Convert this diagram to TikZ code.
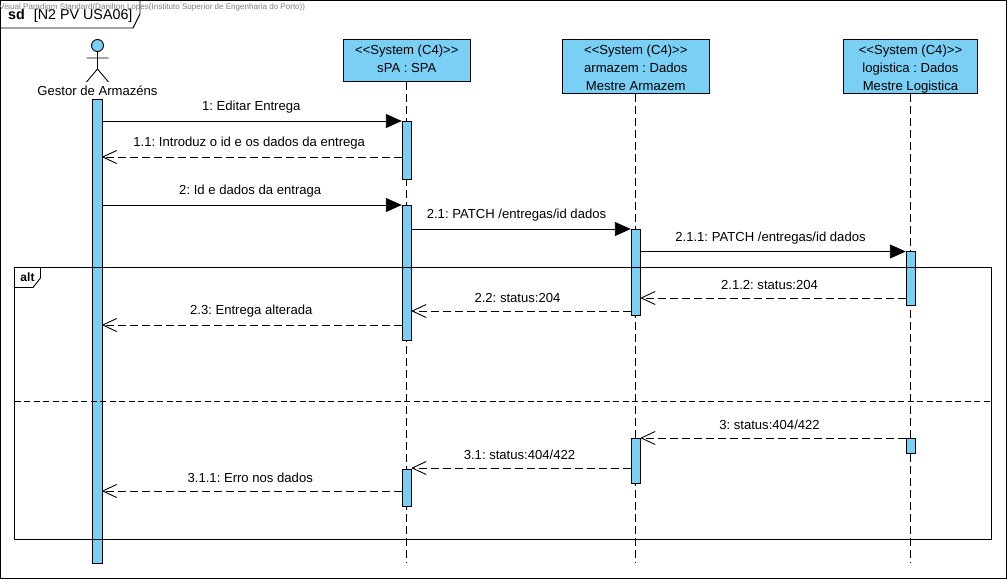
\documentclass[tikz,border=0pt]{standalone}
\usepackage{fontspec}
\setmainfont{Liberation Sans}
\usetikzlibrary{arrows.meta,calc}
\definecolor{lifeblue}{HTML}{7ACFF5}
\frenchspacing
\pgfdeclarearrow{
    name = Open Vee,
    setup code = {\pgfarrowssettipend{0pt}\pgfarrowssetlineend{-.4pt}\pgfarrowssetvisualbackend{-14pt}\pgfarrowssetbackend{-14pt}},
    drawing code = {\pgfsetdash{}{+0pt}\pgfsetroundjoin
        \pgfpathmoveto{\pgfqpoint{-14pt}{6.5pt}}\pgfpathlineto{\pgfpointorigin}\pgfpathlineto{\pgfqpoint{-14pt}{-6.5pt}}\pgfusepathqstroke}
}
\tikzset{
    actbar/.style = {draw, rectangle, fill=lifeblue, line width=.9pt, inner sep=0pt, minimum width=9.5pt},
    sysbox/.style = {draw, rectangle, fill=lifeblue, line width=.9pt, inner sep=0pt, align=center, font=\fontsize{13.1}{18}\selectfont, anchor=north},
    lifeline/.style = {draw, line width=.9pt, dash pattern=on 8pt off 4pt},
    syncmsg/.style = {draw, line width=.9pt, -{Triangle[length=16pt,width=14pt]}},
    replymsg/.style = {draw, line width=.9pt, dash pattern=on 8pt off 4pt, -{Open Vee}},
    msglabel/.style = {font=\fontsize{13.1}{15}\selectfont, inner sep=0pt},
    frameline/.style = {draw, line width=.9pt}
}
\begin{document}
\begin{tikzpicture}[x=1pt,y=-1pt]
    \useasboundingbox (0,0) rectangle (1008,580);
    \fill[white] (0,0) rectangle (1008,580);
    % outer frame
    \draw[frameline] (.5,.5) rectangle (1006.5,578.5);
    \draw[frameline,fill=white] (.5,.5) -- (140,.5) -- (140,14) -- (133,28) -- (.5,28) -- cycle;
    \node[font=\fontsize{14.3}{16}\selectfont, inner sep=0pt, anchor=west] (sdtitle) at (8,16) {\textbf{sd}\hspace{9pt}[N2 PV USA06]};
    \node[font=\fontsize{8.05}{10}\selectfont, text=black!50, inner sep=0pt, anchor=west] (mark) at (-1,7) {Visual Paradigm Standard(Danilton Lopes(Instituto Superior de Engenharia do Porto))};
    % actor
    \node[draw, circle, fill=lifeblue, line width=.9pt, minimum size=12pt, inner sep=0pt] (head) at (97.5,45.5) {};
    \coordinate (hip) at (97.5,69);
    \coordinate (armL) at (86.5,58);
    \coordinate (armR) at (108.5,58);
    \coordinate (legL) at (86.5,82);
    \coordinate (legR) at (108.5,82);
    \draw[frameline] (head) -- (hip) (armL) -- (armR) (legL) -- (hip) -- (legR);
    \node[msglabel] (gestor) at (97.5,91) {Gestor de Armazéns};
    % systems
    \node[sysbox, minimum width=127pt, minimum height=42pt] (spa) at (406.8,39.3) {};
    \node[sysbox, minimum width=147pt, minimum height=54pt] (arm) at (635.8,39.3) {};
    \node[sysbox, minimum width=134pt, minimum height=54pt] (log) at (910.5,39.3) {};
    \foreach \sys/\txt in {spa/{sPA : SPA},arm/{armazem : Dados\\Mestre Armazem},log/{logistica : Dados\\Mestre Logistica}} {
        \node[sysbox, draw=none, fill=none, anchor=north, yshift=-5pt] (\sys text) at (\sys.north) {<{}<System (C4)>{}>\\\txt};
        \coordinate (\sys end) at (\sys.south |- 0,563);
        \draw[lifeline] (\sys.south) -- (\sys end);
    }
    % activation bars
    \foreach \name/\xc/\top/\bot in {main/97.5/99/563,
                                     s1/407/121/179, s2/407/205/340, s3/407/469/506,
                                     a1/636/229/315, a2/636/438/483,
                                     l1/911/251/305, l2/911/438/453} {
        \node[actbar, minimum height={(\bot-\top)*1pt}] (\name) at (\xc,{(\top+\bot)/2}) {};
    }
    % messages
    \foreach \style/\from/\fa/\to/\ta/\yy/\dx/\txt in {
        syncmsg/main/east/s1/west/121/-1/{1: Editar Entrega},
        replymsg/s1/west/main/east/157/-3/{1.1: Introduz o id e os dados da entrega},
        syncmsg/main/east/s2/west/205/-2/{2: Id e dados da entraga},
        syncmsg/s2/east/a1/west/229/-5/{2.1: PATCH /entregas/id dados},
        syncmsg/a1/east/l1/west/251.5/-3/{2.1.1: PATCH /entregas/id dados},
        replymsg/l1/west/a1/east/298/-4/{2.1.2: status:204},
        replymsg/a1/west/s2/east/311/-4/{2.2: status:204},
        replymsg/s2/west/main/east/325/-1/{2.3: Entrega alterada},
        replymsg/l2/west/a2/east/438/-4/{3: status:404/422},
        replymsg/a2/west/s3/east/468/-2/{3.1: status:404/422},
        replymsg/s3/west/main/east/491/-2/{3.1.1: Erro nos dados}} {
        \draw[\style] (\from.\fa |- 0,\yy) -- node[msglabel, midway, yshift=13.5pt, xshift=\dx pt] {\txt} (\to.\ta |- 0,\yy);
    }
    % alt fragment
    \draw[frameline] (14.5,267.5) rectangle (991,539.5);
    \draw[frameline,fill=white] (14.5,267.5) -- (40.5,267.5) -- (40.5,278) -- (33,287.5) -- (14.5,287.5) -- cycle;
    \node[font=\fontsize{12}{14}\bfseries\selectfont, inner sep=0pt] (altlabel) at (27.5,277) {alt};
    \coordinate (divL) at (14.5,401);
    \coordinate (divR) at (991,401);
    \draw[line width=.9pt, dash pattern=on 6pt off 3.5pt] (divL) -- (divR);
\end{tikzpicture}
\end{document}
